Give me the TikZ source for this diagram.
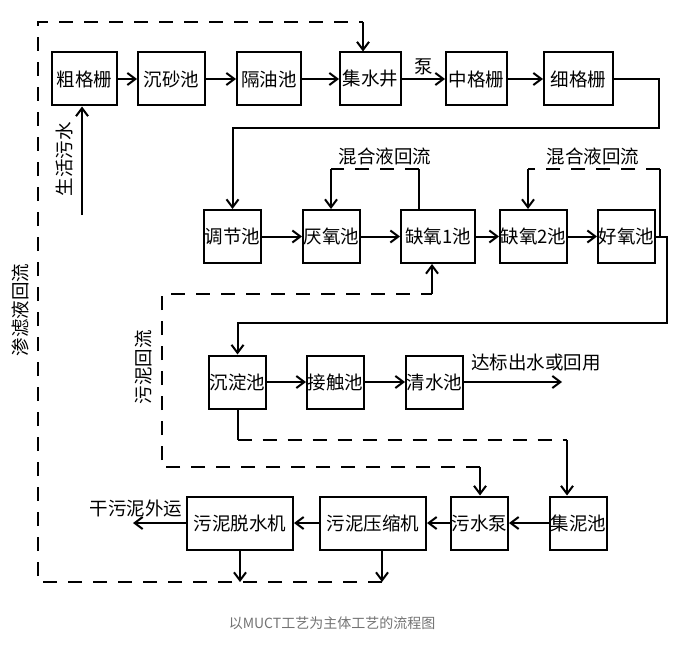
\documentclass[tikz,border=0pt]{standalone}
\usepackage{fontspec}
\setmainfont{Noto Sans CJK SC}
\usetikzlibrary{positioning,arrows.meta}

\begin{document}
\begin{tikzpicture}[x=1pt,y=-1pt,
  tank/.style={draw, line width=2pt, minimum height=53pt, inner sep=0pt,
    font=\fontsize{18.5}{20}\selectfont},
  lbl/.style={inner sep=0pt, font=\fontsize{18.5}{20}\selectfont},
  plain/.style={line width=2pt},
  flow/.style={line width=2pt, -{Straight Barb[length=8pt,width=12pt]}},
  ret/.style={line width=2.2pt, dash pattern=on 14pt off 11pt}]
  \useasboundingbox (0,0) rectangle (685,650);

  % Row 1: pretreatment
  \node[tank, minimum width=65pt] (cgs) at (84.5,79) {粗格栅};
  \node[tank, minimum width=67pt] (csc) at (171.5,79) {沉砂池};
  \node[tank, minimum width=64pt] (gyc) at (269,79) {隔油池};
  \node[tank, minimum width=61pt] (jsj) at (370.5,79) {集水井};
  \node[tank, minimum width=61pt] (zgs) at (476.5,79) {中格栅};
  \node[tank, minimum width=69pt] (xgs) at (578.5,79) {细格栅};

  % Row 2: biological tanks
  \node[tank, minimum width=57pt] (tjc) at (232.5,236.5) {调节池};
  \node[tank, minimum width=57pt] (yyc) at (331.5,236.5) {厌氧池};
  \node[tank, minimum width=74pt] (qy1) at (438,236.5) {缺氧1池};
  \node[tank, minimum width=67pt] (qy2) at (533.5,236.5) {缺氧2池};
  \node[tank, minimum width=57pt] (hyc) at (626.5,236.5) {好氧池};

  % Row 3: settling and polishing
  \node[tank, minimum width=57pt] (cdc) at (237.5,382) {沉淀池};
  \node[tank, minimum width=57pt] (jcc) at (335.5,382) {接触池};
  \node[tank, minimum width=57pt] (qsc) at (434.5,382) {清水池};

  % Row 4: sludge line
  \node[tank, minimum width=106pt] (tsj) at (240,523) {污泥脱水机};
  \node[tank, minimum width=106pt] (ysj) at (373,523) {污泥压缩机};
  \node[tank, minimum width=57pt] (wsb) at (479.5,523) {污水泵};
  \node[tank, minimum width=57pt] (jnc) at (578.5,523) {集泥池};

  % bends of the connectors
  \coordinate (sw) at (82,215);
  \coordinate (r1) at (659,128);
  \coordinate (r2) at (667,323);
  \coordinate (m1a) at (419,169);
  \coordinate (m1b) at (331,169);
  \coordinate (m2a) at (660,169);
  \coordinate (m2b) at (528,169);
  \coordinate (out) at (562,382);
  \coordinate (s1a) at (237.5,440);
  \coordinate (s1b) at (567,440);
  \coordinate (s2a) at (480,467);
  \coordinate (s2b) at (162,467);
  \coordinate (s2c) at (162,294);
  \coordinate (s2d) at (432,294);
  \coordinate (dry) at (133,523);
  \coordinate (f1) at (382,582);
  \coordinate (f2) at (38,582);
  \coordinate (f3) at (38,22);
  \coordinate (f4) at (363,22);

  % Row 1 flow
  \draw[flow] (sw) -- (sw |- cgs.south);
  \node[lbl, rotate=90] (swl) at (64,159) {生活污水};
  \draw[flow] (cgs.east) -- (csc.west);
  \draw[flow] (csc.east) -- (gyc.west);
  \draw[flow] (gyc.east) -- (jsj.west);
  \draw[flow] (jsj.east) -- node[lbl, above=3pt] (beng) {泵} (zgs.west);
  \draw[flow] (zgs.east) -- (xgs.west);
  \draw[flow] (xgs.east) -| (r1) -| (tjc.north);

  % Row 2 flow
  \draw[flow] (tjc.east) -- (yyc.west);
  \draw[flow] (yyc.east) -- (qy1.west);
  \draw[flow] (qy1.east) -- (qy2.west);
  \draw[flow] (qy2.east) -- (hyc.west);
  \draw[flow] (hyc.east) -| (r2) -| (cdc.north);

  % mixed liquor returns
  \draw[plain] (m1a |- qy1.north) -- (m1a);
  \draw[ret] (m1a) -- (m1b);
  \draw[flow] (m1b) -- (m1b |- yyc.north);
  \node[lbl] (hh1) at (385,156) {混合液回流};
  \draw[plain] (m2a |- hyc.east) -- (m2a);
  \draw[ret] (m2a) -- (m2b);
  \draw[flow] (m2b) -- (m2b |- qy2.north);
  \node[lbl] (hh2) at (593,156) {混合液回流};

  % Row 3 flow
  \draw[flow] (cdc.east) -- (jcc.west);
  \draw[flow] (jcc.east) -- (qsc.west);
  \draw[flow] (qsc.east) -- (out);
  \node[lbl] (outl) at (536,363) {达标出水或回用};

  % sludge return
  \draw[plain] (cdc.south) -- (s1a);
  \draw[ret] (s1a) -- (s1b);
  \draw[flow] (s1b) -- (s1b |- jnc.north);
  \draw[flow] (s2a) -- (s2a |- wsb.north);
  \draw[ret] (s2a) -- (s2b) -- (s2c) -- (s2d);
  \draw[flow] (s2d) -- (s2d |- qy1.south);
  \node[lbl, rotate=90] (wnl) at (143,367) {污泥回流};

  % Row 4 flow
  \draw[flow] (jnc.west) -- (wsb.east);
  \draw[flow] (wsb.west) -- (ysj.east);
  \draw[flow] (ysj.west) -- (tsj.east);
  \draw[flow] (tsj.west) -- (dry);
  \node[lbl] (dryl) at (136,508) {干污泥外运};

  % leachate return
  \draw[flow] (tsj.south) -- (tsj.south |- f1);
  \draw[flow] (f1 |- ysj.south) -- (f1);
  \draw[ret] (f1) -- (f2) -- (f3) -- (f4);
  \draw[flow] (f4) -- (f4 |- jsj.north);
  \node[lbl, rotate=90] (sll) at (20,310) {渗滤液回流};

  % caption
  \node[inner sep=0pt, text=black!55, font=\fontsize{14}{16}\selectfont] (cap) at (332,623) {以MUCT工艺为主体工艺的流程图};
\end{tikzpicture}
\end{document}
